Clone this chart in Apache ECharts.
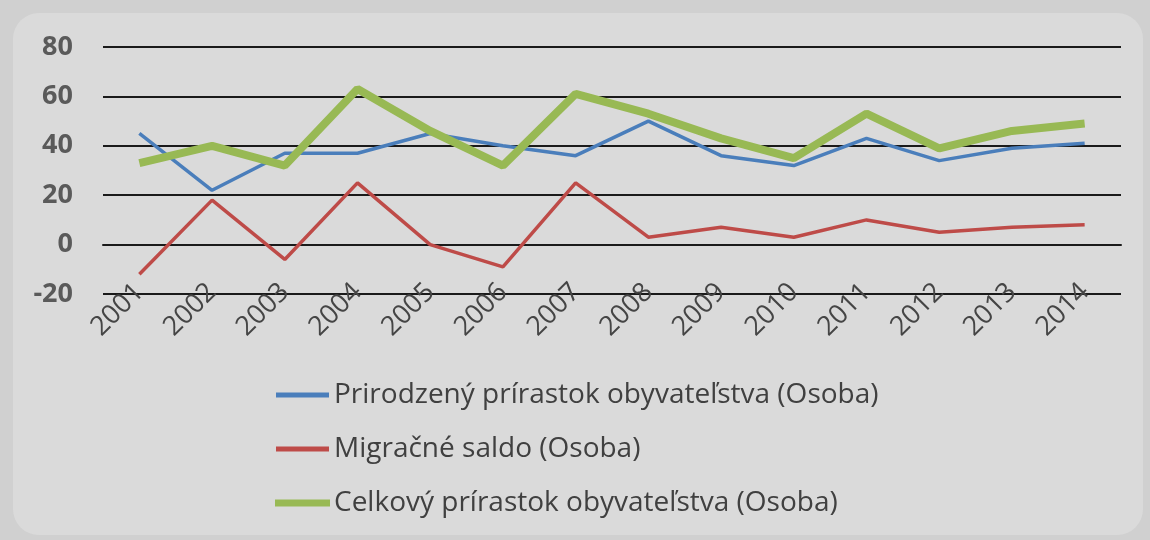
<!DOCTYPE html>
<html>
<head>
<meta charset="utf-8">
<script src="https://cdn.jsdelivr.net/npm/echarts@6/dist/echarts.min.js"></script>
<style>
  html, body { margin: 0; padding: 0; width: 1150px; height: 540px; background: #d0d0d0; overflow: hidden; }
  #panel { position: absolute; left: 13px; top: 13px; width: 1130px; height: 522px; background: #dadada; border-radius: 26px; }
  #chart { position: absolute; left: 0; top: 0; width: 1150px; height: 540px; }
</style>
</head>
<body>
<div id="panel"></div>
<div id="chart"></div>
<script>
const years = ['2001','2002','2003','2004','2005','2006','2007','2008','2009','2010','2011','2012','2013','2014'];
const natural = [45, 22, 37, 37, 45, 40, 36, 50, 36, 32, 43, 34, 39, 41];
const migration = [-12, 18, -6, 25, 0, -9, 25, 3, 7, 3, 10, 5, 7, 8];
const total = [33, 40, 32, 63, 46, 32, 61, 53, 43, 35, 53, 39, 46, 49];
const seriesNames = ['Prirodzený prírastok obyvateľstva (Osoba)', 'Migračné saldo (Osoba)', 'Celkový prírastok obyvateľstva (Osoba)'];
const colors = ['#4a7ebb', '#be4b48', '#98b954'];
const yMin = -20, yMax = 80, yStep = 20;

const chart = echarts.init(document.getElementById('chart'), null, { renderer: 'canvas' });
const font = '"Open Sans", "Liberation Sans", sans-serif';
chart.setOption({
  animation: false,
  backgroundColor: 'transparent',
  grid: { left: 103, right: 29, top: 47, bottom: 246 },
  legend: {
    orient: 'vertical',
    left: 275,
    top: 380,
    padding: 0,
    itemGap: 24,
    itemWidth: 53,
    itemHeight: 5,
    icon: 'rect',
    textStyle: { fontFamily: font, fontSize: 28, lineHeight: 30, color: '#404040' },
    data: [
      { name: seriesNames[0], itemStyle: { color: colors[0] } },
      { name: seriesNames[1], itemStyle: { color: colors[1] } },
      { name: seriesNames[2], itemStyle: { color: colors[2], borderColor: colors[2], borderWidth: 2 } }
    ]
  },
  xAxis: {
    type: 'category',
    data: years,
    boundaryGap: true,
    axisLine: { show: true, lineStyle: { color: '#1a1a1a', width: 2 } },
    axisTick: { show: false },
    axisLabel: { rotate: 45, margin: -6, fontFamily: font, fontSize: 27, color: '#454545', interval: 0 }
  },
  yAxis: {
    type: 'value',
    min: yMin, max: yMax, interval: yStep,
    axisLine: { show: false },
    axisTick: { show: false },
    axisLabel: { margin: 30, fontFamily: font, fontSize: 27, fontWeight: 'bold', color: '#5a5a5a' },
    splitLine: { lineStyle: { color: '#1a1a1a', width: 2 } }
  },
  series: [
    { name: seriesNames[0], type: 'line', data: natural, symbol: 'none', lineStyle: { color: colors[0], width: 3.5 }, itemStyle: { color: colors[0] } },
    { name: seriesNames[1], type: 'line', data: migration, symbol: 'none', lineStyle: { color: colors[1], width: 3.5 }, itemStyle: { color: colors[1] } },
    { name: seriesNames[2], type: 'line', data: total, symbol: 'none', lineStyle: { color: colors[2], width: 8 }, itemStyle: { color: colors[2] } }
  ]
});
</script>
</body>
</html>
